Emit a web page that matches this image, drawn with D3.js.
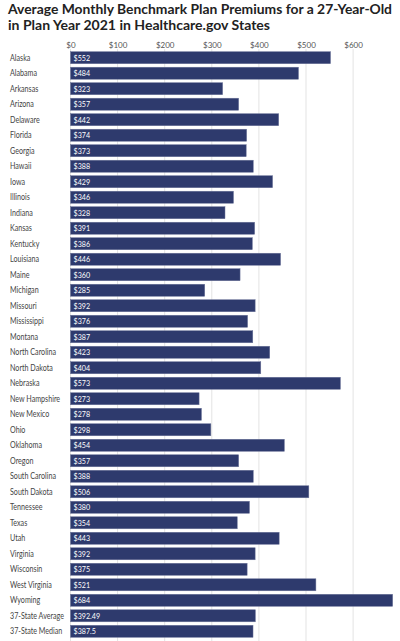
<!DOCTYPE html>
<html><head><meta charset="utf-8">
<script src="https://cdn.jsdelivr.net/npm/d3@7"></script>
<style>html,body{margin:0;padding:0;background:#fff;}svg{display:block;}</style>
</head><body>
<svg id="c" width="400" height="641"></svg>
<script>
const titleLines = ["Average Monthly Benchmark Plan Premiums for a 27-Year-Old", "in Plan Year 2021 in Healthcare.gov States"];
const states = ["Alaska","Alabama","Arkansas","Arizona","Delaware","Florida","Georgia","Hawaii","Iowa","Illinois","Indiana","Kansas","Kentucky","Louisiana","Maine","Michigan","Missouri","Mississippi","Montana","North Carolina","North Dakota","Nebraska","New Hampshire","New Mexico","Ohio","Oklahoma","Oregon","South Carolina","South Dakota","Tennessee","Texas","Utah","Virginia","Wisconsin","West Virginia","Wyoming","37-State Average","37-State Median"];
const premiums = [552,484,323,357,442,374,373,388,429,346,328,391,386,446,360,285,392,376,387,423,404,573,273,278,298,454,357,388,506,380,354,443,392,375,521,684,392.49,387.5];
const tickValues = [0,100,200,300,400,500,600];

const svg = d3.select("#c");
const x = d3.scaleLinear().domain([0,700]).range([70.5,400.2]);
const y = d3.scaleBand().domain(states).range([50,639]).paddingInner(0.225).paddingOuter(0.11);

// title
const tw = [384, 262];
titleLines.forEach((t,i)=>{
  svg.append("text").attr("x",8).attr("y",13.5+i*16.3)
    .attr("font-family","Lato, sans-serif").attr("font-weight",700)
    .attr("font-size",13.5).attr("fill","#222")
    .attr("textLength",tw[i]).attr("lengthAdjust","spacingAndGlyphs").text(t);
});

// gridlines
svg.append("g").selectAll("line").data(tickValues).join("line")
  .attr("x1",d=>x(d)).attr("x2",d=>x(d)).attr("y1",49).attr("y2",641)
  .attr("stroke","#e3e3e3").attr("stroke-width",1);

// top axis labels
const ax = svg.append("g").attr("transform","translate(0,48)")
  .call(d3.axisTop(x).tickValues(tickValues).tickFormat(d=>"$"+d).tickSize(0).tickPadding(0));
ax.select(".domain").remove();
ax.selectAll("text").attr("font-family","Lato, sans-serif").attr("font-size",8).attr("fill","#555");

// bars
svg.append("g").selectAll("rect").data(states).join("rect")
  .attr("x",x(0)).attr("y",d=>y(d)).attr("width",(d,i)=>x(premiums[i])-x(0))
  .attr("height",y.bandwidth()).attr("fill","#2e3a6d").attr("stroke","#6b7398").attr("stroke-width",0.5);

// value labels
const vl = svg.append("g").selectAll("text").data(states).join("text")
  .attr("x",x(0)+3).attr("y",d=>y(d)+y.bandwidth()/2).attr("dy","0.35em")
  .attr("font-family","Lato, sans-serif").attr("font-size",8.3).attr("fill","#fff")
  .text((d,i)=>"$"+premiums[i]);
vl.each(function(){ const w=this.getComputedTextLength(); d3.select(this).attr("textLength",w*0.86).attr("lengthAdjust","spacingAndGlyphs"); });

// category labels (condensed to fit the narrow label column)
const cl = svg.append("g").selectAll("text").data(states).join("text")
  .attr("x",10).attr("y",d=>y(d)+y.bandwidth()/2).attr("dy","0.35em")
  .attr("font-family","Lato, sans-serif").attr("font-size",8.6).attr("fill","#444")
  .text(d=>d);
let maxW = 0;
cl.each(function(){ maxW = Math.max(maxW, this.getComputedTextLength()); });
const k = Math.min(1, 54/maxW);
cl.each(function(){ const w=this.getComputedTextLength(); d3.select(this).attr("textLength",w*k).attr("lengthAdjust","spacingAndGlyphs"); });
</script>
</body></html>
